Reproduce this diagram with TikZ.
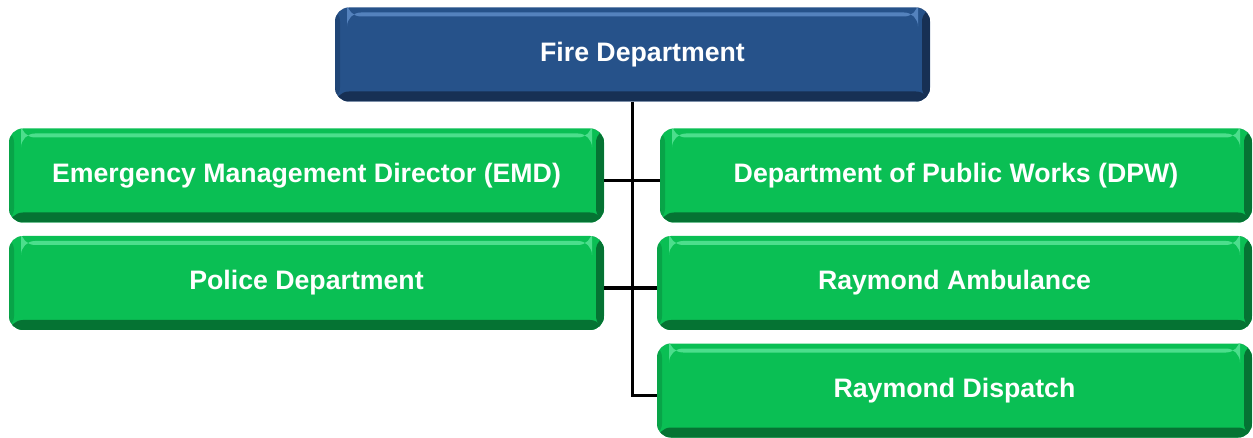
\documentclass[tikz,border=0pt]{standalone}
\usepackage{fontspec}
\setmainfont{Liberation Sans}
\usetikzlibrary{calc}
\definecolor{HeadClr}{rgb}{0.15,0.32,0.54}
\definecolor{HeadDark}{rgb}{0.09,0.19,0.33}
\definecolor{HeadLight}{rgb}{0.33,0.51,0.74}
\definecolor{UnitClr}{rgb}{0.04,0.75,0.33}
\definecolor{UnitDark}{rgb}{0.02,0.45,0.20}
\definecolor{UnitLight}{rgb}{0.30,0.87,0.55}

\begin{document}
\begin{tikzpicture}[x=1pt,y=-1pt,
  bevel/.style n args={2}{path picture={
    \fill[#1] (path picture bounding box.south west) rectangle ([yshift=10pt]path picture bounding box.south east);
    \fill[#1] ([xshift=-8pt]path picture bounding box.north east) rectangle (path picture bounding box.south east);
    \fill[#1,opacity=.35] (path picture bounding box.north west) rectangle ([xshift=5pt]path picture bounding box.south west);
    \fill[#2] ([xshift=12pt,yshift=-5pt]path picture bounding box.north west) rectangle ([xshift=-12pt,yshift=-9pt]path picture bounding box.north east);}},
  unit/.style={rounded corners=14pt,minimum width=595pt,minimum height=94pt,inner sep=0pt,
    text=white,font=\bfseries\fontsize{26.7}{30}\selectfont,fill=UnitClr,bevel={UnitDark}{UnitLight}},
  head/.style={unit,fill=HeadClr,bevel={HeadDark}{HeadLight}},
  link/.style={line width=3.5pt,black}]
\useasboundingbox (0,0) rectangle (1253,438);

\node[head] (fire) at (632.5,54.5) {\hspace*{20pt}Fire Department};

\node[unit] (emd) at (306.5,175.5) {Emergency Management Director (EMD)};
\node[unit,minimum width=592pt] (dpw) at (956,175.5) {Department of Public Works (DPW)};
\node[unit] (police) at (306.5,283) {Police Department};
\node[unit] (amb) at (954.5,283) {Raymond Ambulance};
\node[unit] (disp) at (954.5,390.5) {Raymond Dispatch};

\coordinate (dispin) at ([yshift=-5pt]disp.west);
\draw[link] (fire.south) |- (dispin);
\draw[link] ([yshift=-5pt]emd.east) -- ([yshift=-5pt]dpw.west);
\draw[link] ([yshift=-5pt]police.east) -- ([yshift=-5pt]amb.west);

\end{tikzpicture}
\end{document}
